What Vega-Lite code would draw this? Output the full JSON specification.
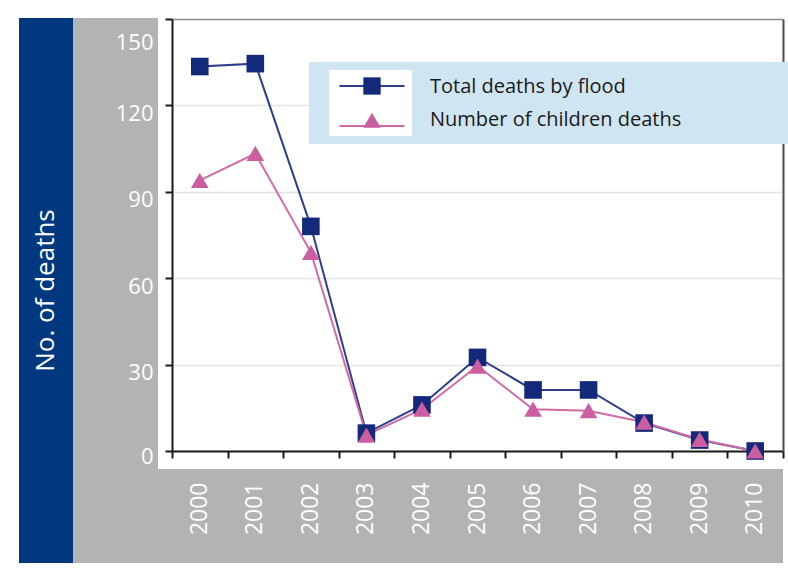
{
  "$schema": "https://vega.github.io/schema/vega-lite/v6.json",
  "background": "white",
  "padding": {"left": 19, "top": 18, "right": 0, "bottom": 0},
  "config": {"font": "Open Sans", "view": {"stroke": null}},
  "datasets": {
    "deaths": [
      {"year": "2000", "series": "Total deaths by flood", "deaths": 133.5},
      {"year": "2001", "series": "Total deaths by flood", "deaths": 134.5},
      {"year": "2002", "series": "Total deaths by flood", "deaths": 78},
      {"year": "2003", "series": "Total deaths by flood", "deaths": 6.2},
      {"year": "2004", "series": "Total deaths by flood", "deaths": 16},
      {"year": "2005", "series": "Total deaths by flood", "deaths": 32.5},
      {"year": "2006", "series": "Total deaths by flood", "deaths": 21.2},
      {"year": "2007", "series": "Total deaths by flood", "deaths": 21.2},
      {"year": "2008", "series": "Total deaths by flood", "deaths": 9.7},
      {"year": "2009", "series": "Total deaths by flood", "deaths": 3.8},
      {"year": "2010", "series": "Total deaths by flood", "deaths": 0},
      {"year": "2000", "series": "Number of children deaths", "deaths": 94},
      {"year": "2001", "series": "Number of children deaths", "deaths": 103.3},
      {"year": "2002", "series": "Number of children deaths", "deaths": 69},
      {"year": "2003", "series": "Number of children deaths", "deaths": 5.5},
      {"year": "2004", "series": "Number of children deaths", "deaths": 14.5},
      {"year": "2005", "series": "Number of children deaths", "deaths": 29.5},
      {"year": "2006", "series": "Number of children deaths", "deaths": 14.5},
      {"year": "2007", "series": "Number of children deaths", "deaths": 14},
      {"year": "2008", "series": "Number of children deaths", "deaths": 10},
      {"year": "2009", "series": "Number of children deaths", "deaths": 4},
      {"year": "2010", "series": "Number of children deaths", "deaths": 0}
    ],
    "ylabel": [{"label": "No. of deaths"}]
  },
  "spacing": 0,
  "hconcat": [
    {
      "width": 54,
      "height": 545,
      "view": {"fill": "#00387f", "stroke": null},
      "data": {"name": "ylabel"},
      "mark": {"type": "text", "angle": 270, "color": "white", "fontSize": 26, "font": "Open Sans", "align": "center", "baseline": "middle"},
      "encoding": {"text": {"field": "label", "type": "nominal"}}
    },
    {
      "spacing": 0,
      "vconcat": [
        {
          "spacing": 0,
          "hconcat": [
            {
              "width": 85,
              "height": 451,
              "view": {"fill": "#b3b3b3", "stroke": null},
              "data": {"name": "deaths"},
              "mark": {"type": "point", "opacity": 0},
              "encoding": {
                "y": {
                  "field": "deaths", "type": "quantitative",
                  "scale": {"domain": [0, 150], "range": [433, 1], "nice": false},
                  "axis": {
                    "orient": "left", "offset": -85, "values": [0, 30, 60, 90, 120, 150],
                    "domain": false, "ticks": false, "tickSize": 0, "grid": false,
                    "labelColor": "white", "labelFontSize": 22, "labelFont": "Open Sans", "labelPadding": 5,
                    "labelOffset": {"condition": [{"test": "datum.value === 150", "value": 23}, {"test": "datum.value === 0", "value": 5}], "value": 8},
                    "title": null
                  }
                }
              }
            },
            {
              "width": 625,
              "height": 451,
              "view": {"fill": "white", "stroke": null},
              "data": {"name": "deaths"},
              "layer": [
                {
                  "transform": [{"filter": "datum.deaths < 0"}],
                  "mark": {"type": "point", "filled": true},
                  "encoding": {
                    "x": {
                      "field": "year", "type": "ordinal",
                      "scale": {"type": "band", "range": [14, 625], "paddingInner": 0, "paddingOuter": 0},
                      "axis": {"orient": "bottom", "offset": -18, "labels": false, "domainColor": "#1a1a1a", "domainWidth": 2, "tickColor": "#1a1a1a", "tickWidth": 2, "tickSize": 7, "tickBand": "extent", "grid": false, "title": null}
                    },
                    "y": {
                      "field": "deaths", "type": "quantitative",
                      "scale": {"domain": [0, 150], "range": [433, 1], "nice": false},
                      "axis": {
                        "orient": "left", "offset": -14, "values": [0, 30, 60, 90, 120, 150],
                        "tickSize": 7, "tickWidth": 2, "tickColor": "#1a1a1a",
                        "domainColor": "#1a1a1a", "domainWidth": 2,
                        "grid": true,
                        "gridColor": {"condition": {"test": "datum.value === 150", "value": "#8c8c8c"}, "value": "#e3e3e3"},
                        "gridWidth": 1.5,
                        "labels": false,
                        "title": null
                      }
                    },
                    "color": {
                      "field": "series", "type": "nominal",
                      "scale": {"domain": ["Number of children deaths", "Total deaths by flood"], "range": ["white", "white"]},
                      "legend": {
                        "orient": "none", "legendX": 290, "legendY": 44,
                        "zindex": 1,
                        "values": ["Total deaths by flood", "Number of children deaths"],
                        "title": null,
                        "fillColor": "#d0e5f2",
                        "padding": 8,
                        "symbolType": "M-2.515,-1H2.515V1H-2.515ZM24.76,0L24.76,0",
                        "symbolSize": 1089,
                        "symbolStrokeWidth": 0,
                        "symbolFillColor": "white",
                        "symbolStrokeColor": "white",
                        "symbolOpacity": 1,
                        "symbolOffset": 37,
                        "rowPadding": 0,
                        "labelOffset": 43,
                        "labelFont": "Open Sans", "labelFontSize": 20, "labelColor": "#1a1a1a", "labelLimit": 600
                      }
                    }
                  }
                },
                {
                  "mark": {"type": "line", "strokeWidth": 2},
                  "encoding": {
                    "x": {"field": "year", "type": "ordinal", "axis": null},
                    "y": {"field": "deaths", "type": "quantitative", "axis": null},
                    "stroke": {
                      "field": "series", "type": "nominal",
                      "scale": {"domain": ["Total deaths by flood", "Number of children deaths"], "range": ["#2e3d8c", "#d16aa8"]},
                      "legend": {
                        "orient": "none", "legendX": 320, "legendY": 51,
                        "zindex": 2,
                        "title": null, "padding": 0,
                        "symbolType": "M-2.03,0H2.03M0,-1L0,-1M0,1L0,1",
                        "symbolSize": 1024, "symbolStrokeWidth": 2, "symbolOffset": 16, "rowPadding": 0,
                        "symbolOpacity": 1,
                        "labelExpr": "''", "labelFontSize": 1
                      }
                    }
                  }
                },
                {
                  "mark": {"type": "point", "filled": true, "opacity": 1, "size": 310},
                  "encoding": {
                    "x": {"field": "year", "type": "ordinal", "axis": null},
                    "y": {
                      "field": "deaths", "type": "quantitative",
                      "axis": {"orient": "right", "labels": false, "ticks": false, "grid": false, "domainColor": "#4d4d4d", "domainWidth": 2, "title": null}
                    },
                    "fill": {
                      "field": "series", "type": "nominal",
                      "scale": {"range": ["#cb5e9f", "#13297a"]},
                      "legend": {
                        "orient": "none", "legendX": 344, "legendY": 59, "zindex": 3,
                        "values": ["Total deaths by flood", "Number of children deaths"],
                        "title": null, "padding": 0,
                        "symbolSize": 300, "symbolStrokeWidth": 0, "symbolOffset": 0, "rowPadding": 16.3,
                        "symbolOpacity": 1, "labelExpr": "''", "labelFontSize": 1
                      }
                    },
                    "shape": {
                      "field": "series", "type": "nominal",
                      "scale": {"range": ["triangle-up", "square"]},
                      "legend": {
                        "orient": "none", "legendX": 344, "legendY": 59, "zindex": 3,
                        "values": ["Total deaths by flood", "Number of children deaths"],
                        "title": null, "padding": 0,
                        "symbolSize": 300, "symbolStrokeWidth": 0, "symbolOffset": 0, "rowPadding": 16.3,
                        "symbolOpacity": 1, "labelExpr": "''", "labelFontSize": 1
                      }
                    }
                  }
                }
              ],
              "resolve": {"axis": {"x": "independent", "y": "independent"}}
            }
          ]
        },
        {
          "width": 710,
          "height": 94,
          "view": {"fill": "#b3b3b3", "stroke": null},
          "data": {"name": "deaths"},
          "mark": {"type": "point", "opacity": 0},
          "encoding": {
            "x": {
              "field": "year", "type": "ordinal",
              "scale": {"type": "band", "range": [99, 710], "paddingInner": 0, "paddingOuter": 0},
              "axis": {"orient": "bottom", "offset": -94, "domain": false, "ticks": false, "tickSize": 0, "labelAngle": 270, "labelFontSize": 23, "labelColor": "white", "labelFont": "Open Sans", "labelPadding": 13, "title": null, "grid": false}
            }
          }
        }
      ]
    }
  ]
}
